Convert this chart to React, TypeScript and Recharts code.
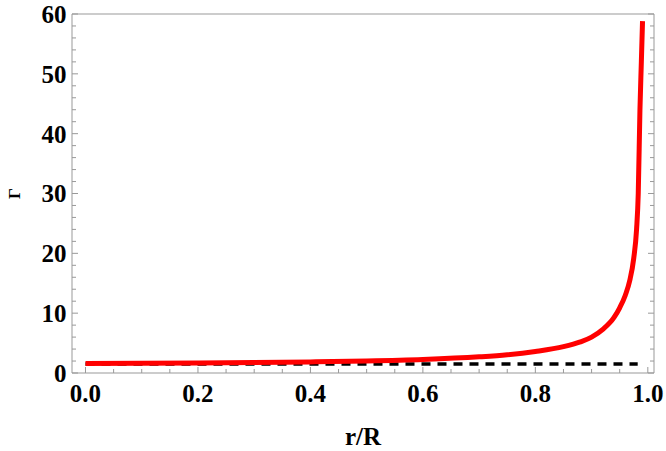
import React from 'react';
import { LineChart, Line, XAxis, YAxis } from 'recharts';

// r/R samples and the adiabatic index
const rValues = [0, 0.1, 0.2, 0.3, 0.4, 0.5, 0.6, 0.7, 0.75, 0.8, 0.85, 0.88, 0.9, 0.92, 0.94, 0.95, 0.96, 0.968, 0.975, 0.98, 0.983, 0.986, 0.9885, 0.9906];
const gammaValues = [1.6, 1.62, 1.67, 1.74, 1.85, 2.0, 2.25, 2.7, 3.05, 3.6, 4.4, 5.2, 6.0, 7.3, 9.3, 10.9, 13.0, 15.5, 19.2, 24, 30, 44, 52, 58.8];

// dashed reference level
const refR = [0, 0.982];
const refGamma = [1.5, 1.5];

const xTicks = [0, 0.05, 0.1, 0.15, 0.2, 0.25, 0.3, 0.35, 0.4, 0.45, 0.5, 0.55, 0.6, 0.65, 0.7, 0.75, 0.8, 0.85, 0.9, 0.95, 1.0];
const yTicks = [0, 2, 4, 6, 8, 10, 12, 14, 16, 18, 20, 22, 24, 26, 28, 30, 32, 34, 36, 38, 40, 42, 44, 46, 48, 50, 52, 54, 56, 58, 60];

const curveData = rValues.map((r, i) => ({ r, g: gammaValues[i] }));
const refData = refR.map((r, i) => ({ r, g: refGamma[i] }));

const X_DOMAIN: [number, number] = [-0.024, 1.011];
const Y_DOMAIN: [number, number] = [0, 60];
const FRAME = '#999999';
const FONT = '"Liberation Serif", "Times New Roman", serif';
const FONT_SIZE = 25;
const X_MARGIN = 11;
const Y_MARGIN = 5.5;

const isMajorX = (v: number) => Math.abs(v * 5 - Math.round(v * 5)) < 1e-6;
const isMajorY = (v: number) => Math.abs(v / 10 - Math.round(v / 10)) < 1e-6;

// draws the inward frame tick, and the label on bottom / left sides
const FrameTick = (props: any) => {
  const { x, y, payload, side } = props;
  const v = payload.value;
  if (side === 'bottom' || side === 'top') {
    const major = isMajorX(v);
    const len = major ? 6 : 4;
    const y0 = side === 'bottom' ? y - X_MARGIN : y;
    const y1 = side === 'bottom' ? y0 - len : y0 + len;
    return (
      <g>
        <line x1={x} x2={x} y1={y0} y2={y1} stroke={FRAME} strokeWidth={1} />
        {side === 'bottom' && major && (
          <text x={x} y={y} dy="0.71em" textAnchor="middle" fontFamily={FONT} fontSize={FONT_SIZE} fontWeight="bold" fill="#000">
            {v.toFixed(1)}
          </text>
        )}
      </g>
    );
  }
  const major = isMajorY(v);
  const len = major ? 6 : 4;
  const x0 = side === 'left' ? x + Y_MARGIN : x;
  const x1 = side === 'left' ? x0 + len : x0 - len;
  return (
    <g>
      <line x1={x0} x2={x1} y1={y} y2={y} stroke={FRAME} strokeWidth={1} />
      {side === 'left' && major && (
        <text x={x} y={y} dy="0.355em" textAnchor="end" fontFamily={FONT} fontSize={FONT_SIZE} fontWeight="bold" fill="#000">
          {v}
        </text>
      )}
    </g>
  );
};

export default function App() {
  return (
    <div style={{ position: 'absolute', left: 0, top: 0, background: '#fff' }}>
      <LineChart width={666} height={451} margin={{ top: 13, right: 11, bottom: 0, left: 0 }}>
        <XAxis
          xAxisId="b"
          dataKey="r"
          type="number"
          orientation="bottom"
          domain={X_DOMAIN}
          allowDataOverflow
          ticks={xTicks}
          interval={0}
          height={78}
          tickSize={0}
          tickMargin={X_MARGIN}
          tickLine={false}
          axisLine={{ stroke: FRAME }}
          tick={(p: any) => <FrameTick {...p} side="bottom" />}
          label={{ value: 'r/R', position: 'insideBottom', offset: 6, fontFamily: FONT, fontSize: FONT_SIZE, fontWeight: 'bold', fill: '#000' }}
        />
        <XAxis
          xAxisId="t"
          type="number"
          orientation="top"
          domain={X_DOMAIN}
          allowDataOverflow
          ticks={xTicks}
          interval={0}
          height={1}
          tickSize={0}
          tickMargin={0}
          tickLine={false}
          axisLine={{ stroke: FRAME }}
          tick={(p: any) => <FrameTick {...p} side="top" />}
        />
        <YAxis
          yAxisId="l"
          type="number"
          orientation="left"
          domain={Y_DOMAIN}
          allowDataOverflow
          ticks={yTicks}
          interval={0}
          width={72}
          tickSize={0}
          tickMargin={Y_MARGIN}
          tickLine={false}
          axisLine={{ stroke: FRAME }}
          tick={(p: any) => <FrameTick {...p} side="left" />}
          label={{ value: 'Γ', angle: -90, position: 'insideLeft', offset: 14, fontFamily: FONT, fontSize: 17, fontWeight: 'bold', fill: '#000', style: { textAnchor: 'middle' } }}
        />
        <YAxis
          yAxisId="r"
          type="number"
          orientation="right"
          domain={Y_DOMAIN}
          allowDataOverflow
          ticks={yTicks}
          interval={0}
          width={1}
          tickSize={0}
          tickMargin={0}
          tickLine={false}
          axisLine={{ stroke: FRAME }}
          tick={(p: any) => <FrameTick {...p} side="right" />}
        />
        <Line
          xAxisId="b"
          yAxisId="l"
          data={refData}
          dataKey="g"
          type="linear"
          stroke="#000"
          strokeWidth={3.5}
          strokeDasharray="9 7"
          dot={false}
          isAnimationActive={false}
        />
        <Line
          xAxisId="b"
          yAxisId="l"
          data={curveData}
          dataKey="g"
          type="monotone"
          stroke="#ff0000"
          strokeWidth={5}
          dot={false}
          isAnimationActive={false}
        />
      </LineChart>
    </div>
  );
}
